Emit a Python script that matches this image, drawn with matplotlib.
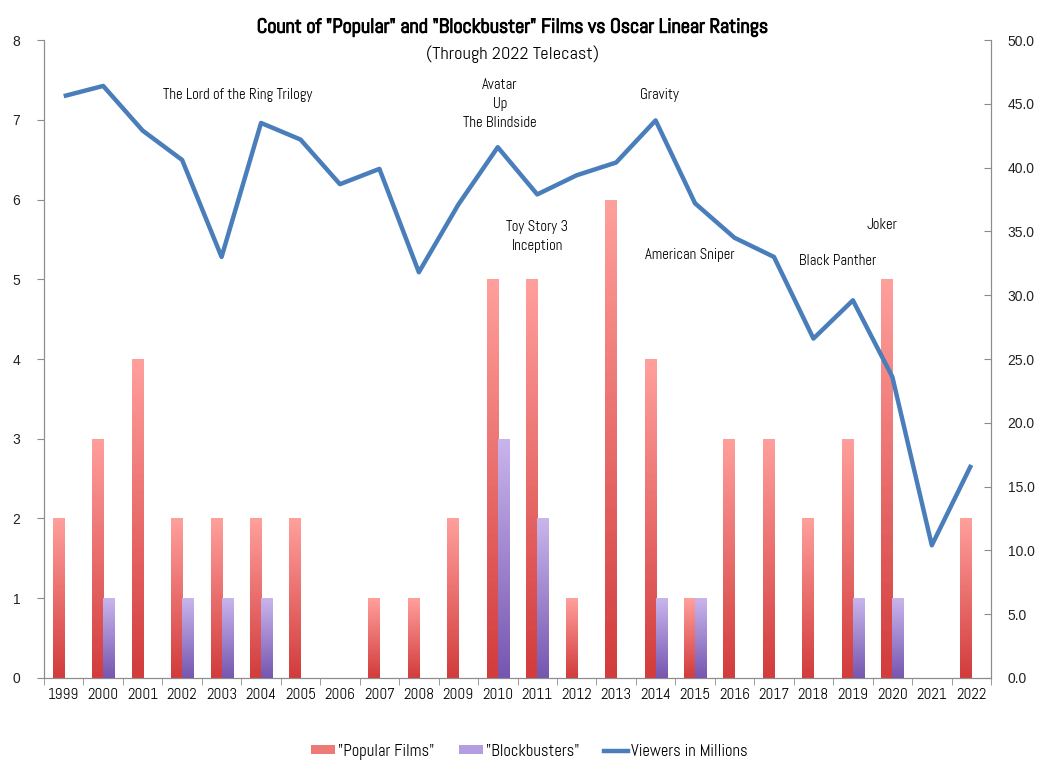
import matplotlib
matplotlib.use("Agg")
import matplotlib.pyplot as plt
import matplotlib.font_manager as fm
import matplotlib.patheffects as pe
import numpy as np
from matplotlib.colors import LinearSegmentedColormap
from matplotlib.patches import Patch
from matplotlib.lines import Line2D

# data
years = [str(y) for y in range(1999, 2023)]
popular = [2, 3, 4, 2, 2, 2, 2, 0, 1, 1, 2, 5, 5, 1, 6, 4, 1, 3, 3, 2, 3, 5, 0, 2]
blockbusters = [0, 1, 0, 1, 1, 1, 0, 0, 0, 0, 0, 3, 2, 0, 0, 1, 1, 0, 0, 0, 1, 1, 0, 0]
viewers = [45.6, 46.4, 42.9, 40.6, 33.0, 43.5, 42.2, 38.7, 39.9, 31.8, 37.1, 41.6,
           37.9, 39.4, 40.4, 43.7, 37.2, 34.5, 33.0, 26.6, 29.6, 23.6, 10.4, 16.7]

# film labels: (text, x position in categories, height on left axis)
notes = [
    ("The Lord of the Ring Trilogy", 4.42, 7.31),
    ("Avatar\nUp\nThe Blindside", 11.05, 7.2),
    ("Gravity", 15.1, 7.31),
    ("Toy Story 3\nInception", 12.0, 5.54),
    ("American Sniper", 15.87, 5.3),
    ("Black Panther", 19.62, 5.23),
    ("Joker", 20.74, 5.68),
]

installed = {f.name for f in fm.fontManager.ttflist}
narrow = next((n for n in ["Abel", "Roboto Condensed", "Liberation Sans Narrow", "Roboto"]
               if n in installed), "DejaVu Sans")
NARROW = [narrow, "DejaVu Sans"]
SANS = ["Liberation Sans", "DejaVu Sans"]

red_cmap = LinearSegmentedColormap.from_list("r", ["#d23c3c", "#ff9f9c"])
pur_cmap = LinearSegmentedColormap.from_list("p", ["#7656b0", "#c9b5ec"])
grey = "#8c8c8c"

fig = plt.figure(figsize=(10.48, 7.68), dpi=100)
ax = fig.add_axes([0.042, 0.1172, 0.9036, 0.8307])
ax2 = ax.twinx()

x = np.arange(len(years))
w = 0.28
bars_r = ax.bar(x - w / 2, popular, w, facecolor="none", edgecolor="none")
bars_p = ax.bar(x + w / 2, blockbusters, w, facecolor="none", edgecolor="none")

grad = np.linspace(0, 1, 100).reshape(-1, 1)
for bars, cmap in [(bars_r, red_cmap), (bars_p, pur_cmap)]:
    for b in bars:
        if b.get_height() <= 0:
            continue
        x0, y0 = b.get_x(), b.get_y()
        im = ax.imshow(grad, extent=[x0, x0 + b.get_width(), y0, y0 + b.get_height()],
                       origin="lower", aspect="auto", cmap=cmap, zorder=2)
        im.set_clip_path(b)

ax2.plot(x, viewers, color="#4a7ebb", lw=3.2, solid_capstyle="butt", zorder=3)

ax.set_xlim(-0.5, len(years) - 0.5)
ax.set_ylim(0, 8)
ax2.set_ylim(0, 50)
ax.set_yticks(range(0, 9))
ax2.set_yticks(np.arange(0, 51, 5))
ax2.set_yticklabels([f"{v:.1f}" for v in np.arange(0, 51, 5)])
for lab in ax.get_yticklabels() + ax2.get_yticklabels():
    lab.set_fontfamily(SANS)

ax.set_xticks(x)
ax.set_xticklabels(years, fontfamily=NARROW, fontsize=11)
ax.set_xticks(np.arange(-0.5, len(years)), minor=True)
ax.tick_params(axis="x", which="major", length=0, pad=7)
ax.tick_params(axis="x", which="minor", length=5, direction="out", color=grey)
ax.tick_params(axis="y", length=5, direction="out", color=grey, labelsize=10, pad=12,
               labelcolor="#222222")
ax2.tick_params(axis="y", length=5, direction="in", color=grey, labelsize=10, pad=12,
                labelcolor="#222222")

for a in (ax, ax2):
    a.spines["top"].set_visible(False)
    for s in ("left", "right", "bottom"):
        a.spines[s].set_color(grey)

for txt, xx, yy in notes:
    ax.text(xx, yy, txt, ha="center", va="center", fontfamily=NARROW,
            fontsize=10.6, linespacing=1.45, zorder=5)

title = fig.text(0.489, 0.964, 'Count of "Popular" and "Blockbuster" Films vs Oscar Linear Ratings',
                 ha="center", va="center", fontfamily=NARROW, fontsize=14.5, fontweight="bold")
title.set_path_effects([pe.withStroke(linewidth=0.8, foreground="black")])
fig.text(0.489, 0.929, "(Through 2022 Telecast)", ha="center", va="center",
         fontfamily=NARROW, fontsize=13.3)

handles = [Patch(facecolor="#ee7a78"), Patch(facecolor="#b49ee0"),
           Line2D([], [], color="#4a7ebb", lw=3.2)]
fig.legend(handles, ['"Popular Films"', '"Blockbusters"', "Viewers in Millions"],
           loc="center", bbox_to_anchor=(0.505, 0.021), ncol=3, frameon=False,
           prop={"family": NARROW, "size": 12}, handlelength=1.45, handletextpad=0.15,
           columnspacing=1.5, handleheight=0.45)

fig.savefig("out.png", dpi=100)
